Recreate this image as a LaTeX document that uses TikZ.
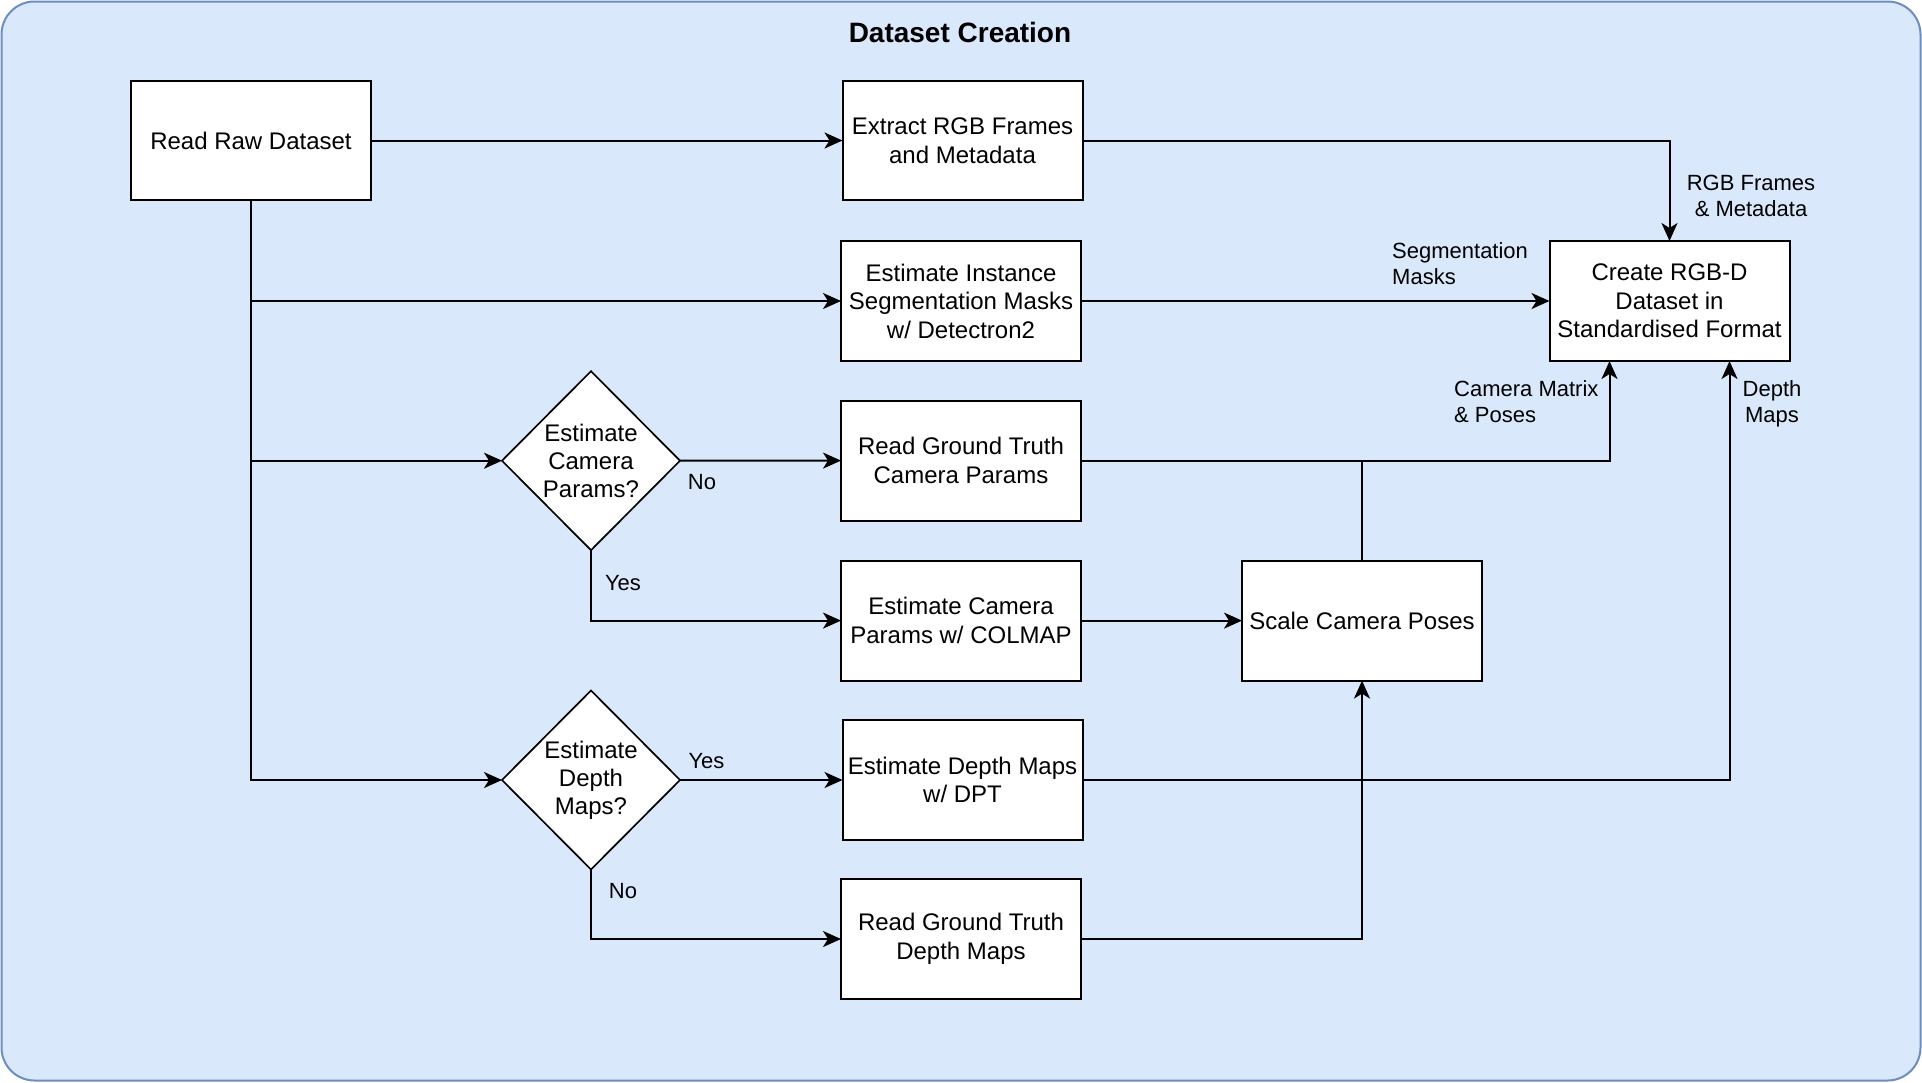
\documentclass[tikz,border=0pt]{standalone}
\usepackage{fontspec}
\setmainfont{Liberation Sans}
\usetikzlibrary{shapes.geometric,arrows.meta,calc}

\definecolor{panelfill}{HTML}{DAE8FC}
\definecolor{panelline}{HTML}{6C8EBF}

\tikzset{
  proc/.style={draw=black, fill=white, line width=2pt, rectangle,
    minimum width=240pt, minimum height=120pt, inner sep=0pt, outer sep=0pt,
    align=center, font=\fontsize{24}{28.5}\selectfont},
  decide/.style={draw=black, fill=white, line width=1.7pt, diamond, aspect=1,
    minimum width=178pt, minimum height=179pt, inner sep=0pt, outer sep=0pt,
    align=center, font=\fontsize{24}{28}\selectfont},
  flow/.style={draw=black, line width=2pt,
    -{Stealth[length=18pt, width=16pt, inset=5pt]}},
  plain/.style={draw=black, line width=2pt},
  lbl/.style={inner sep=0pt, font=\fontsize{22}{26}\selectfont},
}

\begin{document}
\begin{tikzpicture}[x=1pt, y=-1pt]
  \useasboundingbox (0,0) rectangle (1922,1082);

  % container panel
  \draw[fill=panelfill, draw=panelline, line width=2pt, rounded corners=33pt]
    (1.5,1.5) rectangle (1920.5,1080.5);
  \node[inner sep=0pt, font=\fontsize{28}{34}\selectfont\bfseries]
    (title) at (960,32) {Dataset Creation};

  % process boxes
  \node[proc, minimum height=119pt] (raw)   at (251,140.5)   {Read Raw Dataset};
  \node[proc, minimum height=119pt] (rgb)   at (962.5,140.5) {Extract RGB Frames\\and Metadata};
  \node[proc] (seg)     at (961,301)     {Estimate Instance\\Segmentation Masks\\w/ Detectron2};
  \node[proc] (create)  at (1669.5,301)  {Create RGB-D\\Dataset in\\Standardised Format};
  \node[proc] (gtcam)   at (961,460.6)   {Read Ground Truth\\Camera Params};
  \node[proc] (colmap)  at (961,620.6)   {Estimate Camera\\Params w/ COLMAP};
  \node[proc] (scale)   at (1362,620.6)  {Scale Camera Poses};
  \node[proc] (dpt)     at (962.5,780)   {Estimate Depth Maps\\w/ DPT};
  \node[proc] (gtdepth) at (961,939)     {Read Ground Truth\\Depth Maps};

  % decisions
  \node[decide] (dcam)   at (591,460.7) {Estimate\\Camera\\Params?};
  \node[decide] (ddepth) at (591,780)   {Estimate\\Depth\\Maps?};

  % entry points on the bottom of the output box
  \coordinate (inCam)   at ($(create.south west)!0.25!(create.south east)$);
  \coordinate (inDepth) at ($(create.south west)!0.75!(create.south east)$);

  % connectors
  \draw[flow] (raw.east) -- (rgb.west);
  \draw[flow] (raw.south) |- (ddepth.west);
  \draw[flow] (raw.south |- seg.west) -- (seg.west);
  \draw[flow] (raw.south |- dcam.west) -- (dcam.west);

  \draw[flow] (rgb.east) -| (create.north);
  \draw[flow] (seg.east) -- (create.west);

  \draw[flow] (dcam.east) -- (gtcam.west);
  \draw[flow] (dcam.south) |- (colmap.west);
  \draw[flow] (gtcam.east) -| (inCam);
  \draw[plain] (scale.north) -- (scale.north |- gtcam.east);
  \draw[flow] (colmap.east) -- (scale.west);

  \draw[flow] (ddepth.east) -- (dpt.west);
  \draw[flow] (ddepth.south) |- (gtdepth.west);
  \draw[flow] (dpt.east) -| (inDepth);
  \draw[flow] (gtdepth.east) -| (scale.south);

  % connector labels
  \node[lbl, align=center] (lrgb)   at (1751,196)  {RGB Frames\\\& Metadata};
  \node[lbl, align=left, anchor=west] (lseg) at (1392,264) {Segmentation\\Masks};
  \node[lbl, align=left, anchor=west] (lcam) at (1454,401.5) {Camera Matrix\\\& Poses};
  \node[lbl, align=center] (ldepth) at (1772,404)  {Depth\\Maps};
  \node[lbl] (lno1)  at (702,482)   {No};
  \node[lbl] (lyes1) at (623,583)   {Yes};
  \node[lbl] (lyes2) at (706.5,761) {Yes};
  \node[lbl] (lno2)  at (623,891)   {No};
\end{tikzpicture}
\end{document}
